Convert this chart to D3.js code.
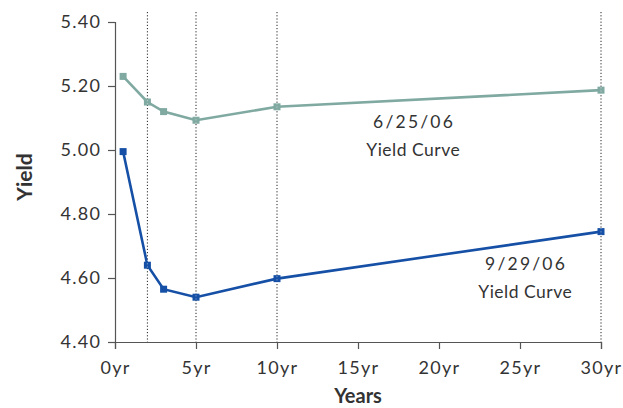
<!DOCTYPE html>
<html>
<head>
<meta charset="utf-8">
<script src="https://cdn.jsdelivr.net/npm/d3@7"></script>
<style>
  html, body { margin: 0; padding: 0; background: #fff; }
  svg { display: block; }
  text { font-family: "Lato", "Open Sans", sans-serif; fill: #333; }
</style>
</head>
<body>
<svg id="chart" width="623" height="408"></svg>
<script>
// Maturities (years) and yields for the two curves
const maturities = [0.5, 2, 3, 5, 10, 30];
const yieldsJune = [5.23, 5.15, 5.12, 5.093, 5.135, 5.187];
const yieldsSept = [4.995, 4.64, 4.565, 4.54, 4.598, 4.745];
const xTicks = [0, 5, 10, 15, 20, 25, 30];
const yTicks = [4.40, 4.60, 4.80, 5.00, 5.20, 5.40];
const gridYears = [2, 5, 10, 30];

const svg = d3.select("#chart");
const x = d3.scaleLinear().domain([0, 30]).range([115, 601]);
const y = d3.scaleLinear().domain([4.40, 5.40]).range([342, 22]);

// dotted reference lines at key maturities
svg.append("g").selectAll("line").data(gridYears).join("line")
  .attr("x1", d => x(d)).attr("x2", d => x(d))
  .attr("y1", 12).attr("y2", y(4.40))
  .attr("stroke", "#222").attr("stroke-width", 1)
  .attr("stroke-dasharray", "1.2,2");

// axes
const yAxis = svg.append("g").attr("transform", `translate(${x(0)},0)`)
  .call(d3.axisLeft(y).tickValues(yTicks).tickFormat(d3.format(".2f")).tickSize(7).tickPadding(8));
const xAxis = svg.append("g").attr("transform", `translate(0,${y(4.40)})`)
  .call(d3.axisBottom(x).tickValues(xTicks).tickFormat(d => d + "yr").tickSize(7).tickPadding(12));
[yAxis, xAxis].forEach(g => {
  g.select(".domain").attr("stroke", "#555").attr("stroke-width", 1.2);
  g.selectAll(".tick line").attr("stroke", "#555").attr("stroke-width", 1.2);
  g.selectAll(".tick text").attr("font-size", 18).attr("fill", "#333")
    .attr("letter-spacing", 1.3)
    .attr("font-family", "Lato, 'Open Sans', sans-serif");
});
yAxis.selectAll(".tick text").attr("dx", 1.3);

// the two yield curves
const series = [
  { values: yieldsJune, color: "#7fa9a1" },
  { values: yieldsSept, color: "#1550a6" }
];
const line = d3.line().x(d => x(d[0])).y(d => y(d[1]));
series.forEach(s => {
  const pts = maturities.map((m, i) => [m, s.values[i]]);
  svg.append("path").datum(pts)
    .attr("d", line).attr("fill", "none")
    .attr("stroke", s.color).attr("stroke-width", 2.6);
  svg.append("g").selectAll("rect").data(pts).join("rect")
    .attr("x", d => x(d[0]) - 3.5).attr("y", d => y(d[1]) - 3.5)
    .attr("width", 7).attr("height", 7)
    .attr("fill", s.color);
});

// light stripe where a dotted line crosses a marker
svg.append("g").selectAll("line").data(gridYears).join("line")
  .attr("x1", d => x(d)).attr("x2", d => x(d))
  .attr("y1", 12).attr("y2", y(4.40))
  .attr("stroke", "#fff").attr("stroke-opacity", 0.45).attr("stroke-width", 1)
  .attr("stroke-dasharray", "1.2,2").attr("stroke-dashoffset", 1.6);

// curve labels
const labels = [
  { lines: [["6/25/06", 2.2], ["Yield Curve", 0.5]], cx: 413, by: 128 },
  { lines: [["9/29/06", 2.2], ["Yield Curve", 0.5]], cx: 525, by: 270 }
];
labels.forEach(l => {
  l.lines.forEach(([t, ls], i) => {
    svg.append("text").attr("x", l.cx + ls / 2).attr("y", l.by + i * 28)
      .attr("text-anchor", "middle").attr("font-size", 17.5)
      .attr("letter-spacing", ls).text(t);
  });
});

// axis titles
svg.append("text").attr("x", 358).attr("y", 403)
  .attr("text-anchor", "middle").attr("font-size", 20).attr("font-weight", "bold")
  .attr("fill", "#111").text("Years");
svg.append("text").attr("transform", "translate(32,177) rotate(-90)")
  .attr("text-anchor", "middle").attr("font-size", 21).attr("font-weight", "bold")
  .attr("fill", "#111").text("Yield");
</script>
</body>
</html>
